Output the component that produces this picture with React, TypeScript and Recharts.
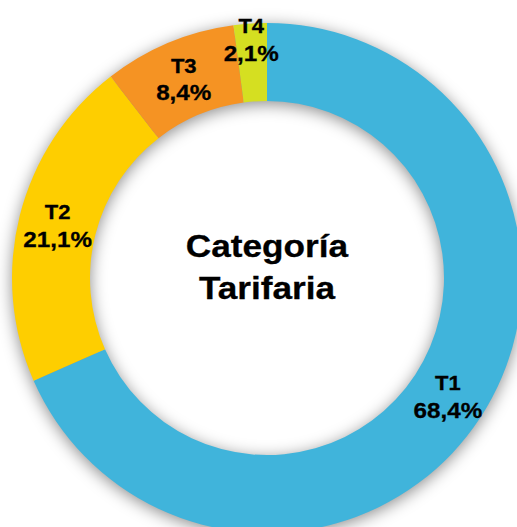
import React from 'react';
import { PieChart, Pie, Cell } from 'recharts';

const categories = ['T1', 'T2', 'T3', 'T4'];
const shares = [68.4, 21.1, 8.4, 2.1];
const colors = ['#40B4DB', '#FECE00', '#F59323', '#D5DF21'];
const centerTitle = ['Categoría', 'Tarifaria'];

const data = categories.map((name, i) => ({ name, value: shares[i] }));
const shadowData = [{ name: 'shadow', value: 1 }];

const W = 517;
const H = 527;
const CX = 267;
const CY = 278;
const INNER = 177;
const OUTER = 255;
const RADIAN = Math.PI / 180;
const FONT = '"Liberation Sans", Arial, sans-serif';

const WideText = ({ x, y, size, children }: any) => (
  <text
    transform={`translate(${x},${y}) scale(1.1,1)`}
    x={0}
    y={0}
    textAnchor="middle"
    dominantBaseline="central"
    fontFamily={FONT}
    fontWeight="bold"
    fontSize={size}
    fill="#000"
    stroke="#000"
    strokeWidth={0.3}
  >
    {children}
  </text>
);

const renderLabel = (props: any) => {
  const { cx, cy, midAngle, innerRadius, outerRadius, index, value, name } = props;
  const factor = index === 3 ? 0.8 : 0.5;
  const r = innerRadius + (outerRadius - innerRadius) * factor;
  const x = cx + r * Math.cos(-midAngle * RADIAN);
  const y = cy + r * Math.sin(-midAngle * RADIAN);
  const pct = Number(value).toFixed(1).replace('.', ',') + '%';
  return (
    <g>
      <WideText x={x} y={y - 13} size={20}>{name}</WideText>
      <WideText x={x} y={y + 14} size={22}>{pct}</WideText>
    </g>
  );
};

export default function App() {
  return (
    <div style={{ position: 'absolute', left: 0, top: 0, width: W, height: H, background: '#fff' }}>
      <style>{`.ring-shadow path { filter: blur(8px); }`}</style>
      <PieChart width={W} height={H} margin={{ top: 0, right: 0, bottom: 0, left: 0 }}>
        <Pie
          className="ring-shadow"
          data={shadowData}
          dataKey="value"
          cx={CX}
          cy={CY + 3}
          innerRadius={INNER}
          outerRadius={OUTER}
          startAngle={90}
          endAngle={-270}
          stroke="none"
          isAnimationActive={false}
          label={false}
          labelLine={false}
        >
          <Cell fill="#000" fillOpacity={0.45} />
        </Pie>
        <Pie
          data={data}
          dataKey="value"
          nameKey="name"
          cx={CX}
          cy={CY}
          innerRadius={INNER}
          outerRadius={OUTER}
          startAngle={90}
          endAngle={-270}
          stroke="none"
          isAnimationActive={false}
          label={renderLabel}
          labelLine={false}
        >
          {data.map((d, i) => (
            <Cell key={d.name} fill={colors[i]} />
          ))}
        </Pie>
        <WideText x={CX} y={CY - 32} size={32}>{centerTitle[0]}</WideText>
        <WideText x={CX} y={CY + 10} size={32}>{centerTitle[1]}</WideText>
      </PieChart>
    </div>
  );
}
